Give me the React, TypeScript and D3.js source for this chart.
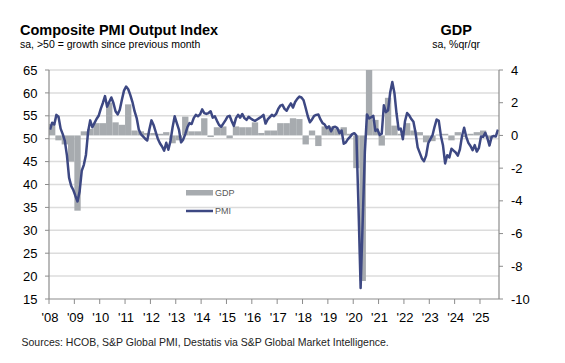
import React from 'react';
import * as d3 from 'd3';

// monthly composite PMI, Jan 2008 - Sep 2025
const pmi2008 = [52.0, 53.5, 53.1, 55.2, 54.8, 52.2, 51.0, 49.5, 46.3, 41.5, 39.7, 38.8];
const pmi2009 = [37.5, 36.3, 38.5, 43.0, 44.3, 46.5, 51.5, 54.0, 52.5, 53.4, 54.3, 55.0];
const pmi2010 = [56.5, 57.8, 59.3, 57.0, 58.0, 59.0, 57.8, 56.0, 55.3, 56.3, 58.5, 60.5];
const pmi2011 = [61.4, 60.8, 59.5, 58.0, 56.0, 54.5, 52.0, 51.0, 50.5, 50.0, 49.6, 52.0];
const pmi2012 = [54.0, 53.0, 51.5, 50.0, 49.0, 48.3, 47.4, 49.1, 47.6, 49.5, 52.5, 54.9];
const pmi2013 = [53.4, 52.0, 49.2, 49.8, 51.0, 52.5, 53.4, 53.2, 54.5, 55.2, 54.9, 55.3];
const pmi2014 = [56.4, 55.6, 55.4, 55.6, 56.0, 54.6, 54.9, 53.9, 53.0, 52.6, 53.3, 54.0];
const pmi2015 = [54.8, 55.0, 53.8, 52.8, 54.5, 55.2, 54.6, 55.4, 54.5, 54.1, 54.8, 54.4];
const pmi2016 = [54.1, 53.9, 54.2, 54.5, 54.8, 55.2, 53.3, 54.2, 54.7, 55.2, 54.9, 55.4];
const pmi2017 = [56.5, 57.2, 57.4, 56.5, 56.1, 57.0, 57.7, 56.8, 58.0, 58.7, 59.2, 59.0];
const pmi2018 = [58.4, 56.7, 54.9, 53.6, 54.2, 55.0, 55.2, 55.3, 54.2, 53.4, 53.1, 52.3];
const pmi2019 = [52.7, 51.6, 52.5, 52.6, 52.3, 51.2, 51.8, 48.9, 49.2, 49.9, 50.4, 51.0];
const pmi2020 = [51.2, 50.7, 35.0, 17.4, 32.3, 47.0, 55.3, 54.4, 54.7, 55.0, 51.7, 52.0];
const pmi2021 = [50.8, 51.1, 57.3, 55.8, 56.2, 60.1, 62.4, 60.0, 55.5, 52.0, 52.2, 49.9];
const pmi2022 = [53.8, 55.6, 55.1, 54.3, 53.7, 51.3, 48.1, 46.9, 45.7, 45.1, 46.3, 49.0];
const pmi2023 = [49.9, 50.7, 52.6, 54.2, 53.9, 50.6, 48.5, 44.6, 46.4, 45.9, 47.8, 47.4];
const pmi2024 = [47.0, 46.3, 47.7, 50.6, 52.4, 50.4, 49.1, 48.4, 47.5, 48.6, 47.2, 48.0];
const pmi2025 = [50.5, 50.4, 51.3, 50.1, 48.5, 50.4, 50.6, 50.5, 52.0];

// quarterly GDP %q/q, Q1 2008 - Q2 2025
const gdp = [
  0.7, -0.3, -0.55, -1.6,
  -4.6, 0.25, 0.4, 0.75,
  0.75, 2.0, 0.8, 0.65,
  1.9, 0.3, 0.25, 0.15,
  0.15, 0.1, 0.2, -0.48,
  -0.3, 1.15, 0.25, 0.25,
  1.05, -0.1, 0.5, 0.55,
  -0.17, 0.55, 0.5, 0.5,
  0.8, 0.15, 0.3, 0.3,
  0.75, 0.75, 1.05, 1.0,
  -0.55, 0.3, -0.65, 0.55,
  0.55, 0.4, 0.5, 0.1,
  -2.0, -8.9, 8.5, 0.95,
  -0.62, 2.3, 0.6, 0.1,
  0.75, 0.3, 0.2, -0.42,
  -0.35, 0.05, 0.1, -0.3,
  0.2, -0.1, 0.1, 0.2,
  0.3, -0.2,
];

const years = ["'08", "'09", "'10", "'11", "'12", "'13", "'14", "'15", "'16", "'17", "'18", "'19", "'20", "'21", "'22", "'23", "'24", "'25"];
const leftTicks = [15, 20, 25, 30, 35, 40, 45, 50, 55, 60, 65];
const rightTicks = [-10, -8, -6, -4, -2, 0, 2, 4];

const pmi = [
  ...pmi2008, ...pmi2009, ...pmi2010, ...pmi2011, ...pmi2012, ...pmi2013,
  ...pmi2014, ...pmi2015, ...pmi2016, ...pmi2017, ...pmi2018, ...pmi2019,
  ...pmi2020, ...pmi2021, ...pmi2022, ...pmi2023, ...pmi2024, ...pmi2025,
];

const W = 565, H = 363;
const left = 49, right = 499, top = 70, bottom = 299;
const font = "Arial, 'Liberation Sans', sans-serif";
const lineColor = '#3d4883';
const barColor = '#a7abaf';
const axisColor = '#8c8c8c';

export default function App() {
  const nMonths = pmi.length;
  const x = d3.scaleLinear().domain([0, nMonths]).range([left, right]);
  const yL = d3.scaleLinear().domain([15, 65]).range([bottom, top]);
  const yR = d3.scaleLinear().domain([-10, 4]).range([bottom, top]).clamp(true);

  const line = d3.line<number>()
    .x((_, i) => x(i + 0.5))
    .y(d => yL(d));

  return (
    <svg width={W} height={H} style={{ position: 'absolute', left: 0, top: 0, background: '#fff' }}
      fontFamily={font}>
      {/* titles */}
      <text x={20} y={34.5} fontSize={14.5} fontWeight="bold" fill="#000">Composite PMI Output Index</text>
      <text x={20} y={48} fontSize={10.5} fill="#000">sa, &gt;50 = growth since previous month</text>
      <text x={472} y={34.5} fontSize={14.5} fontWeight="bold" fill="#000" textAnchor="end">GDP</text>
      <text x={480} y={48} fontSize={10.5} fill="#000" textAnchor="end">sa, %qr/qr</text>

      {/* gridlines */}
      {leftTicks.filter(t => t > 15).map(t => (
        <line key={t} x1={left} x2={right} y1={yL(t)} y2={yL(t)} stroke="#dcdcdc" strokeWidth={1.5} />
      ))}

      {/* GDP bars */}
      {gdp.map((g, q) => {
        const x0 = x(q * 3), x1 = x(q * 3 + 3);
        const y0 = yR(0), y1 = yR(g);
        return <rect key={q} x={x0} width={x1 - x0} y={Math.min(y0, y1)} height={Math.abs(y1 - y0)} fill={barColor} />;
      })}

      {/* PMI line */}
      <path d={line(pmi) || ''} fill="none" stroke={lineColor} strokeWidth={2.5} strokeLinejoin="round" />

      {/* axes */}
      <line x1={left} x2={left} y1={top} y2={bottom} stroke={axisColor} strokeWidth={1.2} />
      <line x1={right} x2={right} y1={top} y2={bottom} stroke={axisColor} strokeWidth={1.2} />
      <line x1={left} x2={right} y1={bottom} y2={bottom} stroke={axisColor} strokeWidth={1.2} />

      {leftTicks.map(t => (
        <g key={t}>
          <line x1={left - 4} x2={left} y1={yL(t)} y2={yL(t)} stroke={axisColor} />
          <text x={37.5} y={yL(t) + 4.6} fontSize={13} textAnchor="end" fill="#000">{t}</text>
        </g>
      ))}
      {rightTicks.map(t => (
        <g key={t}>
          <line x1={right} x2={right + 4} y1={yR(t)} y2={yR(t)} stroke={axisColor} />
          <text x={511} y={yR(t) + 4.6} fontSize={13} textAnchor="start" fill="#000">{t}</text>
        </g>
      ))}
      {years.map((yr, i) => (
        <g key={yr}>
          <line x1={x(i * 12)} x2={x(i * 12)} y1={bottom} y2={bottom + 5} stroke={axisColor} />
          <text x={x(i * 12) + 1} y={321.5} fontSize={13} textAnchor="middle" fill="#000">{yr}</text>
        </g>
      ))}

      {/* legend */}
      <rect x={186} y={190} width={27} height={5.5} fill={barColor} />
      <text x={215} y={196} fontSize={9} fill="#595959">GDP</text>
      <line x1={186} x2={213} y1={211} y2={211} stroke={lineColor} strokeWidth={2.5} />
      <text x={215} y={214} fontSize={9} fill="#595959">PMI</text>

      <text x={21.5} y={346} fontSize={10.5} fill="#222">Sources: HCOB, S&amp;P Global PMI, Destatis via S&amp;P Global Market Intelligence.</text>
    </svg>
  );
}
